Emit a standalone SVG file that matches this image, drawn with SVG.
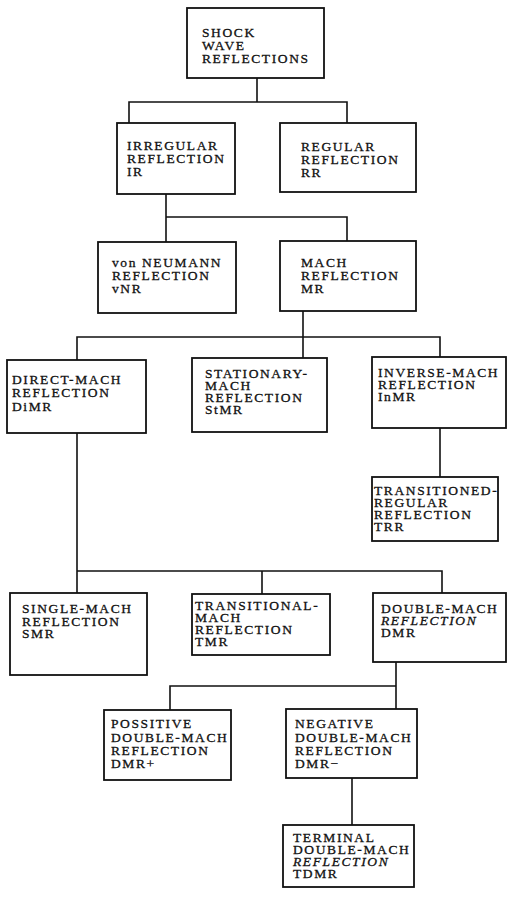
<svg xmlns="http://www.w3.org/2000/svg" width="508" height="897" viewBox="0 0 508 897">
<style>
.box{fill:#fff;stroke:#111;stroke-width:1.8}
.c{fill:none;stroke:#111;stroke-width:1.6}
text{font-family:"Liberation Serif","Times New Roman",serif;font-size:13.5px;letter-spacing:1.6px;fill:#111;stroke:#111;stroke-width:0.3}
.i{font-style:italic}
</style>
<rect width="508" height="897" fill="#fff"/>
<g id="connectors">
<path class="c" d="M257 78V102M129 123V102H347V123"/>
<path class="c" d="M166 194V242M166 217H347V241"/>
<path class="c" d="M303 311V358M77 360V337H440V357"/>
<path class="c" d="M440 428V477"/>
<path class="c" d="M77 433V593M77 571H442V593M262 571V594"/>
<path class="c" d="M396 662V709M170 710V686H396"/>
<path class="c" d="M352 778V825"/>
</g>
<g id="swr"><rect class="box" x="187" y="8" width="137" height="70"/>
<text x="202" y="37">SHOCK</text><text x="202" y="50">WAVE</text><text x="202" y="63">REFLECTIONS</text></g>
<g id="ir"><rect class="box" x="117" y="123" width="118" height="71"/>
<text x="127" y="150">IRREGULAR</text><text x="127" y="163">REFLECTION</text><text x="127" y="176">IR</text></g>
<g id="rr"><rect class="box" x="280" y="123" width="136" height="69"/>
<text x="301" y="151">REGULAR</text><text x="301" y="164">REFLECTION</text><text x="301" y="177">RR</text></g>
<g id="vnr"><rect class="box" x="98" y="242" width="138" height="71"/>
<text x="112" y="267">von NEUMANN</text><text x="112" y="280">REFLECTION</text><text x="112" y="293">vNR</text></g>
<g id="mr"><rect class="box" x="280" y="241" width="136" height="70"/>
<text x="301" y="267">MACH</text><text x="301" y="280">REFLECTION</text><text x="301" y="293">MR</text></g>
<g id="dimr"><rect class="box" x="7" y="360" width="139" height="73"/>
<text x="12" y="384">DIRECT-MACH</text><text x="12" y="397">REFLECTION</text><text x="12" y="411">DiMR</text></g>
<g id="stmr"><rect class="box" x="192" y="358" width="135" height="74"/>
<text x="205" y="378">STATIONARY-</text><text x="205" y="390">MACH</text><text x="205" y="402">REFLECTION</text><text x="205" y="414">StMR</text></g>
<g id="inmr"><rect class="box" x="372" y="357" width="134" height="71"/>
<text x="378" y="377">INVERSE-MACH</text><text x="378" y="389">REFLECTION</text><text x="378" y="401">InMR</text></g>
<g id="trr"><rect class="box" x="372" y="477" width="126" height="64"/>
<text x="374" y="495">TRANSITIONED-</text><text x="374" y="507">REGULAR</text><text x="374" y="519">REFLECTION</text><text x="374" y="531">TRR</text></g>
<g id="smr"><rect class="box" x="10" y="593" width="137" height="82"/>
<text x="22" y="613">SINGLE-MACH</text><text x="22" y="626">REFLECTION</text><text x="22" y="638">SMR</text></g>
<g id="tmr"><rect class="box" x="192" y="594" width="138" height="61"/>
<text x="195" y="610">TRANSITIONAL-</text><text x="195" y="622">MACH</text><text x="195" y="634">REFLECTION</text><text x="195" y="646">TMR</text></g>
<g id="dmr"><rect class="box" x="373" y="593" width="133" height="69"/>
<text x="381" y="613">DOUBLE-MACH</text><text class="i" x="381" y="625">REFLECTION</text><text x="381" y="637">DMR</text></g>
<g id="pdmr"><rect class="box" x="104" y="710" width="127" height="70"/>
<text x="111" y="728">POSSITIVE</text><text x="111" y="742">DOUBLE-MACH</text><text x="111" y="755">REFLECTION</text><text x="111" y="768">DMR+</text></g>
<g id="ndmr"><rect class="box" x="286" y="709" width="131" height="69"/>
<text x="295" y="728">NEGATIVE</text><text x="295" y="742">DOUBLE-MACH</text><text x="295" y="755">REFLECTION</text><text x="295" y="768">DMR−</text></g>
<g id="tdmr"><rect class="box" x="283" y="825" width="131" height="62"/>
<text x="293" y="842">TERMINAL</text><text x="293" y="854">DOUBLE-MACH</text><text class="i" x="293" y="866">REFLECTION</text><text x="293" y="878">TDMR</text></g>
</svg>
